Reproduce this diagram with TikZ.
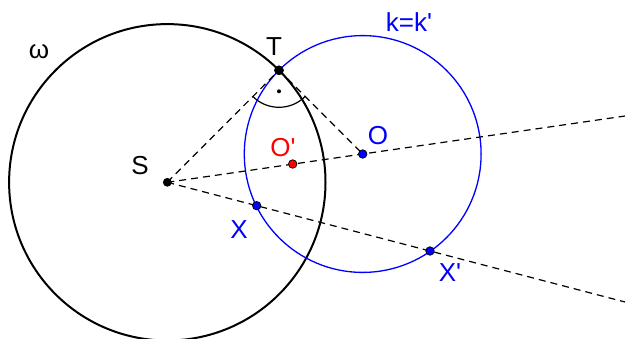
\documentclass[tikz,border=0pt]{standalone}
\usepackage{fontspec}
\setmainfont{Liberation Sans}[Ligatures=TeXOff]
\usetikzlibrary{calc}
\tikzset{
  pt/.style={circle,draw=black,line width=0.7pt,inner sep=0pt,minimum size=8.5pt},
  lbl/.style={font=\fontsize{26}{30}\selectfont,inner sep=0pt},
  aux/.style={dashed,dash pattern=on 7pt off 5pt,line width=1.2pt}
}
\begin{document}
\begin{tikzpicture}[x=1pt,y=-1pt]
\clip (0,0) rectangle (627,338);

\coordinate (S) at (167.3,182.3);
\coordinate (T) at (279,70.3);
\coordinate (O) at (362.7,154);
\coordinate (Oi) at (292.7,164);
\coordinate (X) at (256.7,205.7);
\coordinate (Xi) at (430,251);

\draw[line width=2pt] (S) circle (158.2);
\draw[blue,line width=1.3pt] (O) circle (118.4);

\draw[aux] (S) -- (T);
\draw[aux] (T) -- (O);
\draw[aux] (S) -- ($(S)!2.342!(O)$) coordinate (E1);
\draw[aux] (S) -- ($(S)!1.742!(Xi)$) coordinate (E2);

\draw[line width=1.2pt] ($(T)+(135:37)$) arc[start angle=135,end angle=45,radius=37];
\fill ($(T)+(0,21)$) circle (2pt);

\node[pt,fill=black,minimum size=8pt] (nS) at (S) {};
\node[pt,fill=black,minimum size=9pt] (nT) at (T) {};
\node[pt,fill=blue] (nO) at (O) {};
\node[pt,fill=red] (nOi) at (Oi) {};
\node[pt,fill=blue] (nX) at (X) {};
\node[pt,fill=blue] (nXi) at (Xi) {};

\node[lbl] (lw) at (39,52) {ω};
\node[lbl] (lT) at (274,47) {T};
\node[lbl,blue] (lk) at (409,22) {k=k'};
\node[lbl] (lS) at (140,166) {S};
\node[lbl,red] (lOi) at (283,148) {O'};
\node[lbl,blue] (lO) at (378,136) {O};
\node[lbl,blue] (lX) at (239,230) {X};
\node[lbl,blue] (lXi) at (450,273) {X'};
\end{tikzpicture}
\end{document}
